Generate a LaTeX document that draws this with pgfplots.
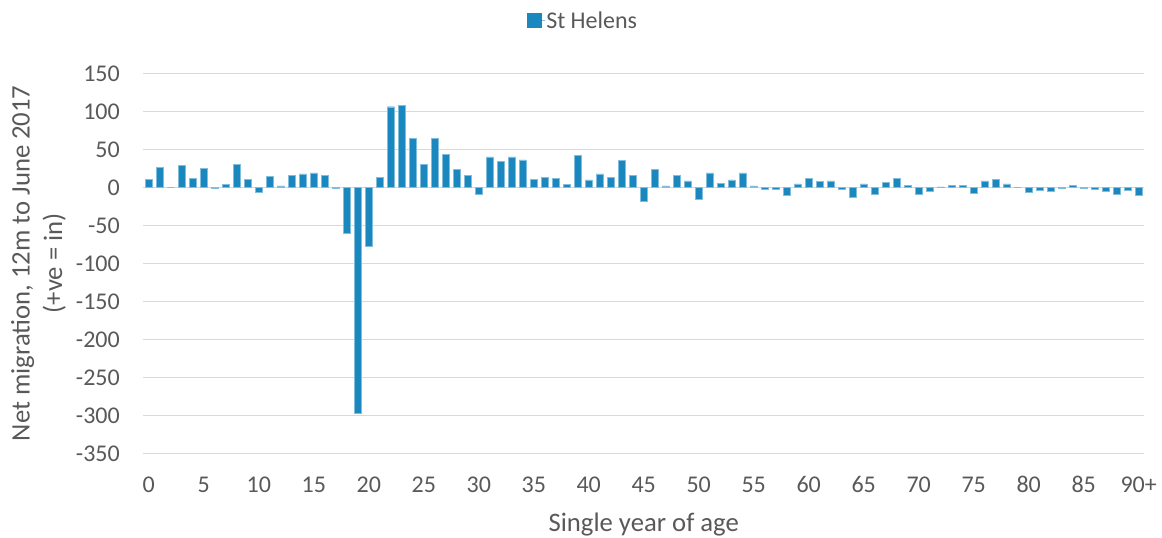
\documentclass[border=0pt]{standalone}
\usepackage{pgfplots}
\pgfplotsset{compat=1.18}
\usepackage{fontspec}
\setmainfont{Carlito}
\definecolor{barblue}{HTML}{1A87BF}
\definecolor{txtgray}{HTML}{595959}
\definecolor{gridgray}{HTML}{D9D9D9}
\pgfplotstableread{
age val
0 10
1 26.5
2 0
3 29
4 11.5
5 25
6 -1
7 3.5
8 30
9 10.5
10 -6.6
11 14
12 2
13 16
14 17.7
15 19
16 15.5
17 -1
18 -60
19 -297
20 -77
21 13
22 106
23 108
24 64.5
25 30
26 64.5
27 43
28 24
29 16
30 -9.7
31 40
32 34
33 40
34 36
35 10.6
36 13
37 11.5
38 3.5
39 42
40 9.7
41 17.7
42 13
43 35
44 15.5
45 -18.5
46 24
47 2
48 16
49 8.4
50 -15.5
51 19
52 5.3
53 9.7
54 19
55 2
56 -3
57 -2
58 -10.6
59 4.4
60 11.5
61 7.5
62 8.4
63 -2
64 -12.8
65 4.4
66 -8.8
67 6.2
68 11.5
69 3
70 -9.7
71 -4.9
72 0.5
73 3
74 3
75 -7.5
76 8.4
77 10
78 4.4
79 0
80 -6.6
81 -3.5
82 -4.9
83 -1
84 3
85 -1
86 -2.5
87 -4.9
88 -8.8
89 -3.5
90 -10.6
}\datatable
\begin{document}
\begin{tikzpicture}
\path[use as bounding box] (0,0) rectangle (1162pt,538pt);
\begin{axis}[
  at={(143.3pt,84.7pt)}, anchor=south west,
  scale only axis, width=1001pt, height=380pt,
  xmin=-0.5, xmax=90.5, ymin=-350, ymax=150,
  axis line style={draw=none},
  major tick length=0pt,
  ytick={-350,-300,...,150},
  xtick={0,5,...,90},
  xticklabels={0,5,10,15,20,25,30,35,40,45,50,55,60,65,70,75,80,85,90+},
  ymajorgrids, xmajorgrids=false,
  grid style={gridgray, line width=1.3pt},
  /pgf/number format/assume math mode=true,
  tick label style={font=\fontsize{24}{28}\selectfont, text=txtgray, inner sep=0pt},
  yticklabel style={anchor=east, xshift=-23.3pt},
  xticklabel style={anchor=base, yshift=-39.4pt},
  xlabel={Single year of age},
  xlabel style={at={(axis description cs:0.5,0)}, anchor=base, yshift=-78.4pt, inner sep=0pt,
    font=\fontsize{26.7}{32}\selectfont, text=txtgray},
  ylabel={Net migration, 12m to June 2017\\(+ve = in)},
  ylabel style={at={(axis description cs:-0.1047,0.5)}, anchor=center, align=center, inner sep=0pt,
    font=\fontsize{26.7}{32.6}\selectfont, text=txtgray},
  legend style={at={(axis description cs:0.4388,1.1389)}, anchor=center, draw=none, fill=none,
    inner sep=0pt, font=\fontsize{24}{28}\selectfont, text=txtgray,
    nodes={inner sep=1pt}},
  legend image code/.code={\path (0pt,0pt) -- (18pt,0pt); \fill[barblue] (0pt,-7pt) rectangle (14pt,7pt);},
]
\addplot[ybar, bar width=0.64, fill=barblue, draw=barblue!55!white, line width=0.4pt] table[x=age, y=val] {\datatable};
\addlegendentry{St Helens}
\end{axis}
\end{tikzpicture}
\end{document}
